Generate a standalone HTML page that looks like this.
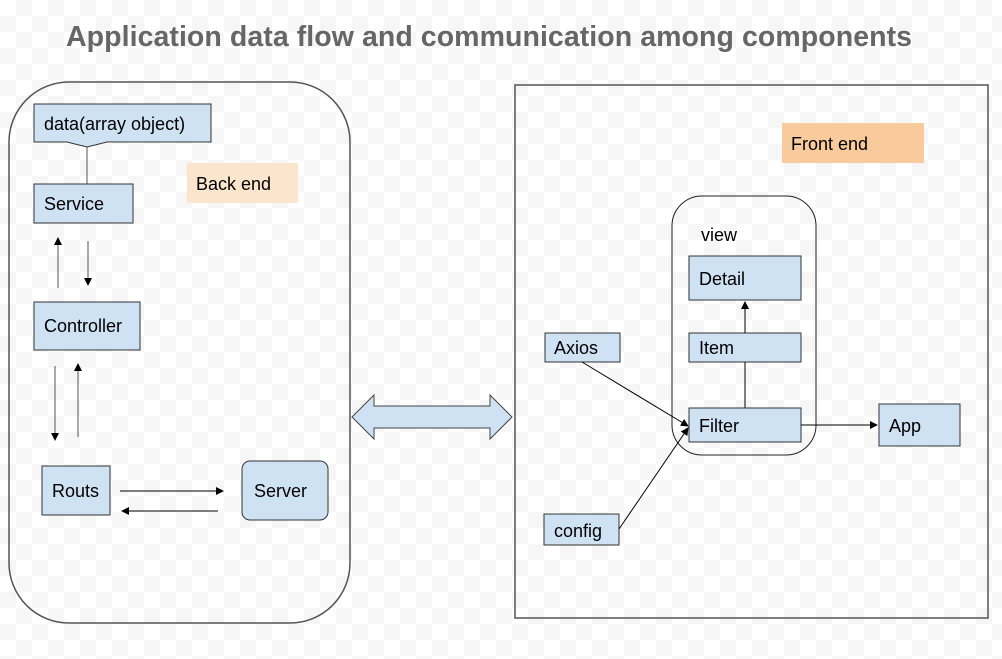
<!DOCTYPE html>
<html><head><style>
html,body{margin:0;padding:0;}
body{width:1002px;height:659px;overflow:hidden;background-color:#fff;
background-image:linear-gradient(45deg,#f6f6f6 25%,transparent 25%,transparent 75%,#f6f6f6 75%),linear-gradient(45deg,#f6f6f6 25%,transparent 25%,transparent 75%,#f6f6f6 75%);
background-size:32px 32px;background-position:0 0,16px 16px;}
svg{position:absolute;left:0;top:0;}
text{font-family:"Liberation Sans",Arial,sans-serif;font-size:18px;fill:#000;}
</style></head><body>
<svg width="1002" height="659" viewBox="0 0 1002 659">
<defs>
<marker id="a" markerWidth="8" markerHeight="8" refX="7" refY="4" orient="auto" markerUnits="userSpaceOnUse">
<path d="M0,0 L8,4 L0,8 z" fill="#000"/></marker>
</defs>
<text x="66" y="46" textLength="846" style="font-size:28.5px;font-weight:bold;fill:#666">Application data flow and communication among components</text>
<rect x="9" y="82" width="341" height="541" rx="60" fill="none" stroke="#555" stroke-width="1.5"/>
<path d="M34,104 H211 V142 H107 L87,147 L67,142 H34 Z" fill="#cfe2f3" stroke="#333" stroke-width="1"/>
<text x="44" y="130">data(array object)</text>
<line x1="87" y1="147" x2="87" y2="184" stroke="#555"/>
<rect x="34" y="184" width="99" height="39" fill="#cfe2f3" stroke="#333"/>
<text x="44" y="210">Service</text>
<rect x="187" y="163" width="111" height="40" fill="#fce5cd"/>
<text x="196" y="190">Back end</text>
<line x1="58" y1="288" x2="58" y2="238" stroke="#555" marker-end="url(#a)"/>
<line x1="88" y1="241" x2="88" y2="285" stroke="#555" marker-end="url(#a)"/>
<rect x="34" y="302" width="106" height="48" fill="#cfe2f3" stroke="#333"/>
<text x="44" y="332">Controller</text>
<line x1="55" y1="366" x2="55" y2="440" stroke="#555" marker-end="url(#a)"/>
<line x1="78" y1="437" x2="78" y2="364" stroke="#555" marker-end="url(#a)"/>
<rect x="42" y="466" width="68" height="49" fill="#cfe2f3" stroke="#333"/>
<text x="52" y="497">Routs</text>
<rect x="242" y="461" width="86" height="59" rx="8" fill="#cfe2f3" stroke="#333"/>
<text x="254" y="497">Server</text>
<line x1="120" y1="491" x2="223" y2="491" stroke="#000" marker-end="url(#a)"/>
<line x1="218" y1="511" x2="122" y2="511" stroke="#000" marker-end="url(#a)"/>
<path d="M352,417 L374,395 V406 H490 V395 L512,417 L490,439 V428 H374 V439 Z" fill="#cfe2f3" stroke="#444"/>
<rect x="515" y="85" width="473" height="533" fill="none" stroke="#555" stroke-width="1.5"/>
<rect x="782" y="123" width="142" height="40" fill="#f9cb9c"/>
<text x="791" y="150">Front end</text>
<rect x="672" y="196" width="144" height="259" rx="30" fill="none" stroke="#222"/>
<text x="701" y="241">view</text>
<rect x="689" y="256" width="112" height="44" fill="#cfe2f3" stroke="#333"/>
<text x="699" y="285">Detail</text>
<rect x="689" y="333" width="112" height="29" fill="#cfe2f3" stroke="#333"/>
<text x="699" y="354">Item</text>
<line x1="745" y1="333" x2="745" y2="302" stroke="#000" marker-end="url(#a)"/>
<line x1="745" y1="408" x2="745" y2="362" stroke="#000"/>
<rect x="689" y="408" width="112" height="34" fill="#cfe2f3" stroke="#333"/>
<text x="699" y="432">Filter</text>
<rect x="879" y="404" width="81" height="42" fill="#cfe2f3" stroke="#333"/>
<text x="889" y="432">App</text>
<line x1="801" y1="425" x2="877" y2="425" stroke="#000" marker-end="url(#a)"/>
<rect x="545" y="333" width="75" height="29" fill="#cfe2f3" stroke="#333"/>
<text x="554" y="354">Axios</text>
<rect x="544" y="514" width="75" height="31" fill="#cfe2f3" stroke="#333"/>
<text x="554" y="537">config</text>
<line x1="582" y1="362" x2="688" y2="426" stroke="#000" marker-end="url(#a)"/>
<line x1="619" y1="529" x2="688" y2="428" stroke="#000" marker-end="url(#a)"/>
</svg>
</body></html>
